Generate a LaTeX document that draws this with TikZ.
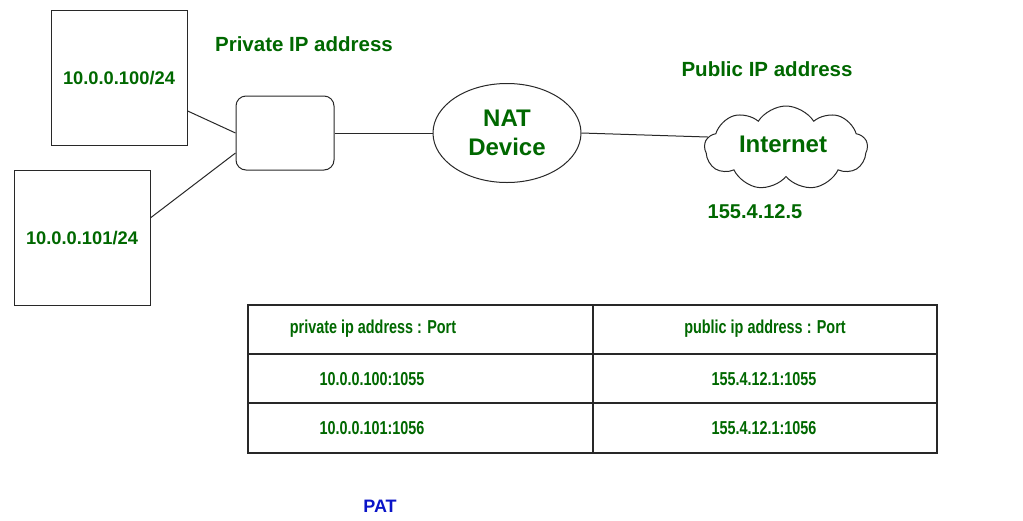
\documentclass[tikz,border=0pt]{standalone}
\usepackage{fontspec}
\setmainfont{Liberation Sans}
\newfontfamily\narrowfont{Liberation Sans}[FakeStretch=0.77]
\usetikzlibrary{shapes.geometric,shapes.symbols}
\definecolor{lblgreen}{RGB}{0,104,0}
\definecolor{patblue}{RGB}{10,20,200}
\definecolor{edge}{RGB}{40,40,40}
\tikzset{
  lbl/.style={text=lblgreen,font=\bfseries\fontsize{#1}{#1}\selectfont,inner sep=0pt,anchor=center},
  tlbl/.style={text=lblgreen,font=\narrowfont\bfseries\fontsize{18.7}{18.7}\selectfont,inner sep=0pt,anchor=center},
  hostbox/.style={draw=edge,line width=1pt,minimum width=136pt,minimum height=135pt,inner sep=0pt},
  conn/.style={draw=edge,line width=1pt},
}
\begin{document}
\begin{tikzpicture}[x=1pt,y=-1pt]
\useasboundingbox[fill=white] (0,0) rectangle (1023,520);
% hosts
\node[hostbox] (b1) at (119,77.5) {};
\node[lbl=18.3] (t1) at (119,78) {10.0.0.100/24};
\node[hostbox] (b2) at (82,237.5) {};
\node[lbl=18.3] (t2) at (82,238) {10.0.0.101/24};
% switch
\node[draw=edge,line width=1pt,rounded corners=10pt,minimum width=98pt,minimum height=74pt,inner sep=0pt] (sw) at (285,133) {};
% NAT
\node[draw=edge,line width=1pt,ellipse,minimum width=148pt,minimum height=99pt,inner sep=0pt] (nat) at (507,133) {};
\node[lbl=24] (natt) at (507,118) {NAT};
\node[lbl=24] (devt) at (507,147) {Device};
% cloud
\node[draw=edge,line width=1pt,cloud,cloud puffs=9,cloud puff arc=115,aspect=2.1,minimum width=163pt,minimum height=84pt,inner sep=0pt] (cl) at (786,148) {};
\node[lbl=24] (clt) at (783,144) {Internet};
% connectors
\draw[conn] (b1.-26) -- (sw.west);
\draw[conn] (b2.16) -- (sw.202);
\draw[conn] (sw.east) -- (nat.west);
\draw[conn] (nat.east) -- (cl.172);
% labels
\node[lbl=20.5] (priv) at (304,44) {Private IP address};
\node[lbl=20.5] (pub) at (767,69) {Public IP address};
\node[lbl=20] (ip) at (755,212) {155.4.12.5};
% table
\draw[edge,line width=1.2pt] (248,305) rectangle (937,453);
\draw[edge,line width=1.2pt] (593,305) -- (593,453);
\draw[edge,line width=1.2pt] (248,354) -- (937,354);
\draw[edge,line width=1.2pt] (248,403) -- (937,403);
\node[tlbl] (h1) at (373,329) {private ip address : Port};
\node[tlbl] (h2) at (765,329) {public ip address : Port};
\node[tlbl] (r11) at (372,379) {10.0.0.100:1055};
\node[tlbl] (r12) at (764,379) {155.4.12.1:1055};
\node[tlbl] (r21) at (372,428) {10.0.0.101:1056};
\node[tlbl] (r22) at (764,428) {155.4.12.1:1056};
\node[text=patblue,font=\bfseries\fontsize{18}{18}\selectfont,inner sep=0pt] (pat) at (380,506) {PAT};
\end{tikzpicture}
\end{document}
